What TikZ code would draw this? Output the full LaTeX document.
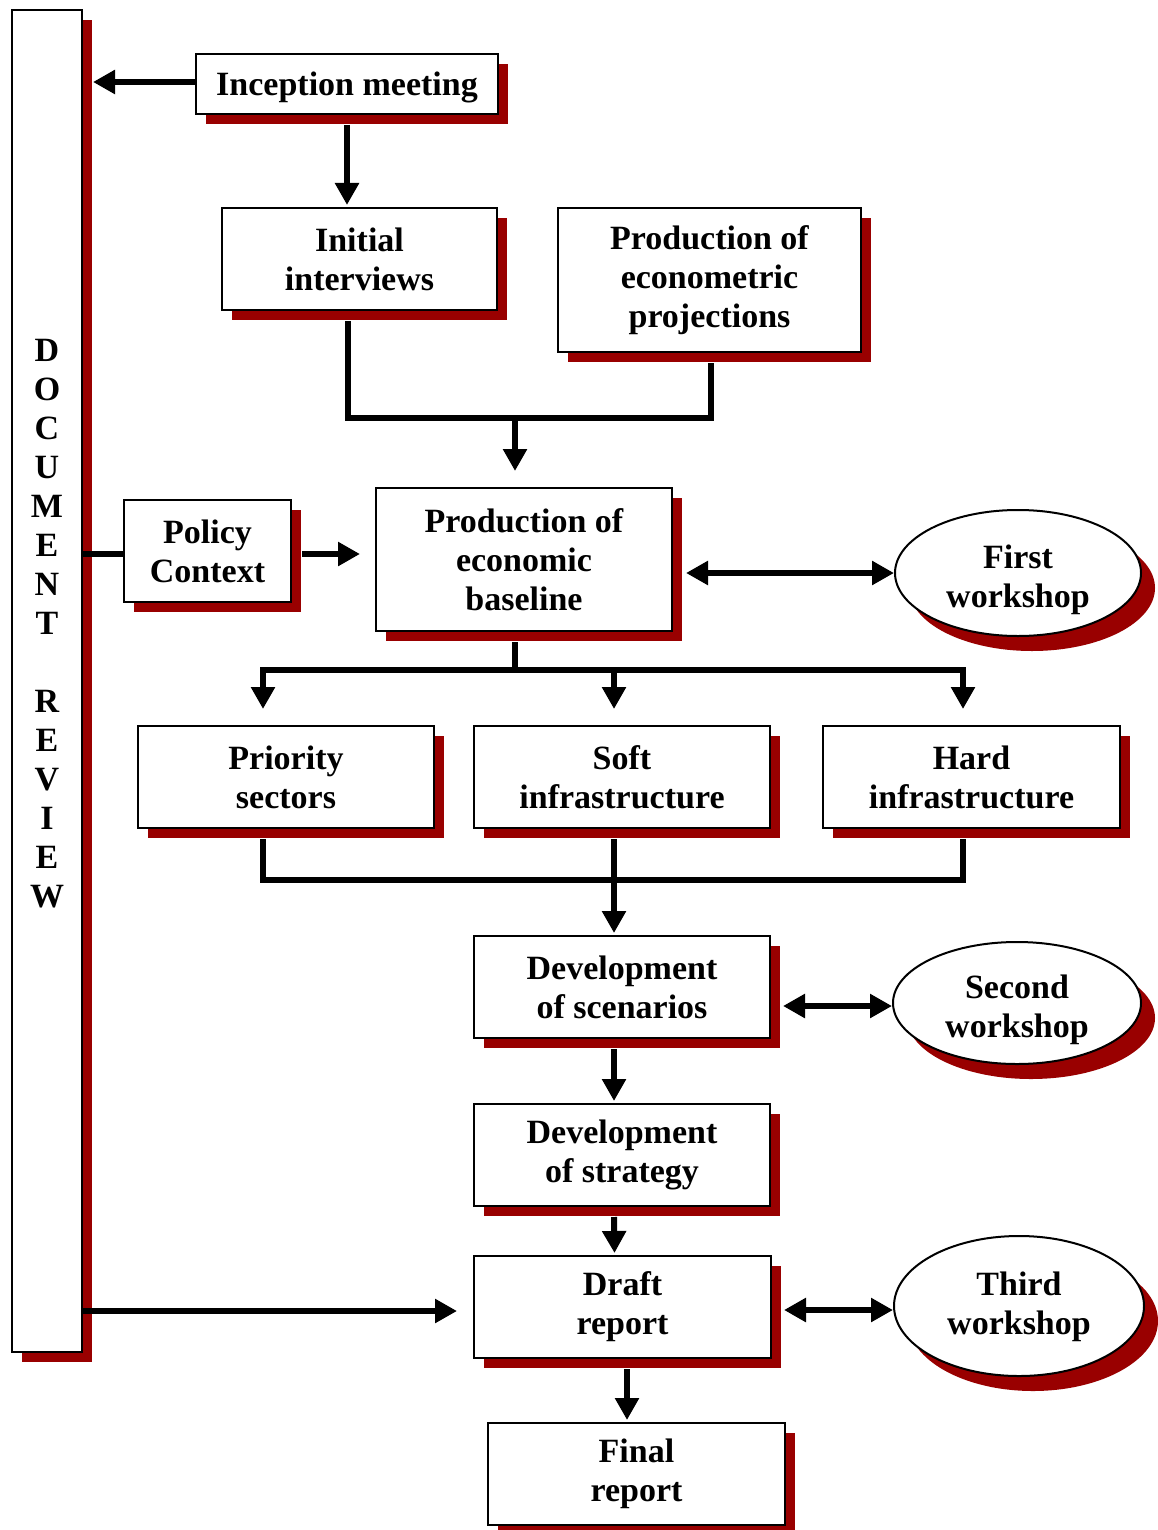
\documentclass[tikz,border=0pt]{standalone}
\usepackage{fontspec}
\setmainfont{Liberation Serif}
\usetikzlibrary{shapes.geometric,shadows,arrows.meta}
\definecolor{shred}{HTML}{990000}
\begin{document}
\begin{tikzpicture}[x=0.5pt,y=-0.5pt,
  txt/.style={font=\fontsize{17}{19.5}\selectfont\bfseries, align=center},
  box/.style={txt, draw=black, line width=1pt, fill=white, inner sep=0pt,
    drop shadow={shadow xshift=5pt, shadow yshift=-5pt, shadow scale=1, fill=shred, opacity=1}},
  oval/.style={ellipse, draw=black, line width=1pt, fill=white, inner sep=0pt,
    drop shadow={shadow xshift=7pt, shadow yshift=-7.5pt, shadow scale=1, fill=shred, opacity=1}},
  ovaltext/.style 2 args={label={[txt, yshift=#2]center:{#1}}},
  conn/.style={line width=3pt, line join=miter},
  arr/.style={conn, -{Triangle[length=11pt,width=11.5pt]}},
  arrtwo/.style={conn, {Triangle[length=11pt,width=11.5pt]}-{Triangle[length=11pt,width=11.5pt]}}]
\useasboundingbox (0,0) rectangle (1157,1530);

% Document review column
\node[box, minimum width=35pt, minimum height=671pt] (doc) at (47,681) {};
\node[txt] (doclbl) at (47,624) {D\\O\\C\\U\\M\\E\\N\\T\\ \\R\\E\\V\\I\\E\\W};

% Boxes
\node[box, minimum width=151pt, minimum height=30pt] (inc) at (347,84) {\raisebox{-1.5pt}[\height][\depth]{Inception meeting}};
\node[box, minimum width=137.5pt, minimum height=51pt] (ini) at (359.5,259) {Initial\\interviews};
\node[box, minimum width=151.5pt, minimum height=72pt] (eco) at (709.5,280) {Production of\\econometric\\projections};
\node[box, minimum width=148pt, minimum height=71.5pt] (base) at (524,559.5) {Production of\\economic\\baseline};
\node[box, minimum width=83.5pt, minimum height=51pt] (pol) at (207.5,551) {Policy\\Context};
\node[oval, minimum width=123pt, minimum height=63pt, ovaltext={First\\workshop}{-3.5pt}] (first) at (1018,573) {};
\node[box, minimum width=148pt, minimum height=51pt] (pri) at (286,777) {Priority\\sectors};
\node[box, minimum width=148pt, minimum height=51pt] (soft) at (622,777) {Soft\\infrastructure};
\node[box, minimum width=148.5pt, minimum height=51pt] (hard) at (971.5,777) {Hard\\infrastructure};
\node[box, minimum width=148pt, minimum height=51pt] (scen) at (622,987) {Development\\of scenarios};
\node[oval, minimum width=124pt, minimum height=61pt, ovaltext={Second\\workshop}{-3.5pt}] (second) at (1017,1003) {};
\node[box, minimum width=148pt, minimum height=51pt] (strat) at (622,1155) {Development\\of strategy};
\node[box, minimum width=148.5pt, minimum height=51pt] (draft) at (622.5,1307) {Draft\\report};
\node[oval, minimum width=125pt, minimum height=70pt, ovaltext={Third\\workshop}{-0.5pt}] (third) at (1019,1306) {};
\node[box, minimum width=148.5pt, minimum height=51pt] (final) at (636.5,1474) {Final\\report};

% Connectors
\draw[arr] ([yshift=1pt]inc.west) -- ([xshift=5pt,yshift=1pt]doc.east |- inc.west);
\draw[arr] ([yshift=-5pt]inc.south) -- ([yshift=1pt]inc.south |- ini.north);

\coordinate (m1) at (515,418);
\draw[conn] ([xshift=-5.75pt,yshift=-5pt]ini.south) |- (m1) -| ([xshift=0.75pt,yshift=-5pt]eco.south);
\draw[arr] (m1) -- ([yshift=8pt]m1 |- base.north);

\draw[conn] ([yshift=-1.5pt]pol.west) -- ([yshift=-1.5pt]pol.west -| doc.east);
\draw[arr] ([xshift=5pt,yshift=-1.5pt]pol.east) -- ([xshift=-7.5pt,yshift=-1.5pt]base.west |- pol.east);
\draw[arrtwo] ([xshift=6.5pt]first.west -| base.east) -- (first.west);

\coordinate (s1) at (515,670);
\draw[conn] ([yshift=-5pt]s1 |- base.south) -- (s1);
\draw[arr] (s1) -| ([xshift=-11.5pt,yshift=8pt]pri.north);
\draw[arr] (s1) -| ([xshift=-4pt,yshift=8pt]soft.north);
\draw[arr] (s1) -| ([xshift=-4.25pt,yshift=8pt]hard.north);

\coordinate (m2) at (614,880);
\draw[conn] ([xshift=-11.5pt,yshift=-5pt]pri.south) |- (m2);
\draw[conn] ([xshift=-4.25pt,yshift=-5pt]hard.south) |- (m2);
\draw[arr] ([xshift=-4pt,yshift=-5pt]soft.south) -- ([xshift=-4pt,yshift=1pt]scen.north);

\draw[arrtwo] ([xshift=6pt,yshift=-1.5pt]scen.east |- second.west) -- ([yshift=-1.5pt]second.west);
\draw[arr] ([xshift=-4pt,yshift=-5pt]scen.south) -- ([xshift=-4pt,yshift=1pt]strat.north);
\draw[arr] ([xshift=-4pt,yshift=-5pt]strat.south) -- ([xshift=-4pt,yshift=1pt]draft.north);

\draw[arr] ([yshift=-2pt]doc.east |- draft.west) -- ([xshift=-8pt,yshift=-2pt]draft.west);
\draw[arrtwo] ([xshift=6pt,yshift=-2pt]draft.east |- third.west) -- ([yshift=-2pt]third.west);
\draw[arr] ([xshift=2.25pt,yshift=-5pt]draft.south) -- ([xshift=2.25pt,yshift=1pt]draft.south |- final.north);
\end{tikzpicture}
\end{document}
